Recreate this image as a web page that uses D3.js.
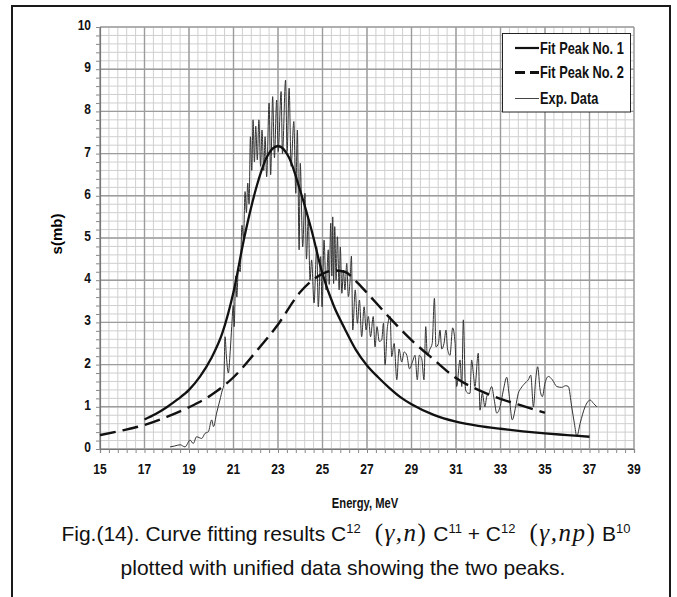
<!DOCTYPE html>
<html>
<head>
<meta charset="utf-8">
<script src="https://cdn.jsdelivr.net/npm/d3@7"></script>
<style>
  body { margin: 0; background: #fff; }
</style>
</head>
<body>
<svg id="chart" width="677" height="597"></svg>
<script>
// ---- data (energy in MeV, cross section in mb) ----
const xMajorTicks = [15, 17, 19, 21, 23, 25, 27, 29, 31, 33, 35, 37, 39];
const yMajorTicks = [0, 1, 2, 3, 4, 5, 6, 7, 8, 9, 10];

const peak1 = [
  [17, 0.70], [17.5, 0.83], [18, 0.99], [18.5, 1.18], [19, 1.40], [19.5, 1.72],
  [20, 2.15], [20.5, 2.75], [21, 3.72], [21.5, 5.05], [22, 6.15], [22.5, 6.92],
  [23, 7.18], [23.5, 6.9], [24, 6.12], [24.5, 5.2], [25, 4.15], [25.5, 3.4],
  [26, 2.85], [26.5, 2.35], [27, 1.98], [27.5, 1.7], [28, 1.45], [28.5, 1.23],
  [29, 1.06], [30, 0.81], [31, 0.65], [32, 0.55], [33, 0.48], [34, 0.42],
  [35, 0.37], [36, 0.33], [37, 0.29]
];

const peak2 = [
  [15, 0.33], [16, 0.44], [17, 0.57], [18, 0.76], [19, 0.99], [20, 1.28],
  [21, 1.7], [22, 2.3], [23, 2.95], [24, 3.72], [25, 4.15], [25.5, 4.23],
  [26, 4.2], [26.5, 3.98], [27, 3.7], [28, 3.12], [29, 2.58], [30, 2.12],
  [31, 1.68], [32, 1.4], [33, 1.19], [34, 1.02], [35, 0.86]
];

const expData = [
  [18.15, 0.05], [18.35, 0.07], [18.6, 0.1], [18.82, 0.05], [19.05, 0.21], [19.19, 0.13],
  [19.34, 0.29], [19.57, 0.25], [19.72, 0.37], [19.87, 0.41], [20.02, 0.69], [20.1, 0.53],
  [20.24, 0.85], [20.39, 1.16], [20.5, 1.4], [20.56, 1.5], [20.62, 2.66], [20.68, 2.2],
  [20.77, 1.8], [20.85, 2.3], [20.92, 2.9], [20.99, 3.4], [21.03, 2.9], [21.1, 4.1],
  [21.15, 3.6], [21.22, 4.3], [21.3, 4.2], [21.38, 5.3], [21.45, 5.0], [21.52, 6.1],
  [21.58, 5.6], [21.64, 6.3], [21.7, 5.8], [21.76, 7.4], [21.82, 6.6], [21.88, 7.8],
  [21.94, 6.8], [22.0, 7.65], [22.07, 6.85], [22.14, 7.8], [22.22, 6.7], [22.28, 7.56],
  [22.36, 6.6], [22.42, 7.4], [22.49, 6.45], [22.6, 8.2], [22.67, 6.5], [22.76, 8.35],
  [22.84, 6.9], [22.94, 8.27], [23.01, 7.05], [23.14, 8.47], [23.2, 7.0], [23.34, 8.74],
  [23.41, 7.05], [23.5, 8.55], [23.59, 6.7], [23.71, 7.76], [23.8, 6.06], [23.87, 7.56],
  [23.95, 4.72], [24.0, 6.77], [24.11, 4.79], [24.21, 6.06], [24.28, 4.5], [24.36, 5.5],
  [24.44, 4.0], [24.51, 4.48], [24.62, 3.46], [24.74, 4.79], [24.81, 3.37], [24.92, 4.56],
  [24.98, 3.37], [25.07, 4.95], [25.16, 3.77], [25.26, 4.72], [25.3, 3.9], [25.37, 5.35],
  [25.42, 4.1], [25.46, 5.5], [25.5, 3.92], [25.55, 5.27], [25.61, 4.0], [25.67, 5.03],
  [25.75, 3.77], [25.8, 4.79], [25.87, 3.69], [25.94, 4.24], [26.01, 3.77], [26.09, 4.4],
  [26.16, 3.61], [26.24, 4.0], [26.3, 4.57], [26.36, 2.82], [26.47, 3.77], [26.57, 2.98],
  [26.66, 3.53], [26.76, 2.66], [26.87, 3.37], [26.96, 2.82], [27.06, 3.14], [27.16, 2.66],
  [27.28, 3.14], [27.36, 2.42], [27.45, 2.9], [27.55, 2.55], [27.66, 2.58], [27.74, 2.98],
  [27.81, 1.99], [27.92, 2.9], [28.04, 3.14], [28.11, 2.19], [28.22, 2.5], [28.34, 1.64],
  [28.44, 2.37], [28.56, 2.06], [28.67, 2.3], [28.79, 2.22], [28.91, 1.9], [29.04, 2.06],
  [29.16, 2.22], [29.26, 1.64], [29.35, 2.22], [29.46, 2.14], [29.56, 1.64], [29.64, 2.9],
  [29.71, 2.22], [29.83, 2.37], [29.93, 2.5], [30.03, 3.57], [30.1, 2.42], [30.21, 2.5],
  [30.28, 2.82], [30.36, 2.37], [30.46, 2.5], [30.55, 2.82], [30.62, 2.37], [30.73, 2.22],
  [30.85, 2.87], [30.96, 2.5], [31.03, 1.48], [31.18, 2.11], [31.26, 1.48], [31.33, 3.06],
  [31.43, 1.4], [31.55, 1.32], [31.63, 1.32], [31.7, 2.11], [31.78, 1.79], [31.85, 1.48],
  [32.0, 2.27], [32.08, 0.92], [32.18, 1.32], [32.3, 1.0], [32.38, 1.24], [32.48, 1.32],
  [32.6, 1.48], [32.72, 1.16], [32.83, 0.85], [32.98, 1.0], [33.13, 1.4], [33.28, 1.7],
  [33.38, 1.32], [33.53, 0.69], [33.68, 1.0], [33.8, 1.32], [33.92, 1.44], [34.1, 1.56],
  [34.25, 1.64], [34.36, 1.75], [34.48, 1.0], [34.58, 1.64], [34.67, 1.95], [34.78, 1.4],
  [34.88, 1.24], [35.0, 1.56], [35.15, 1.72], [35.33, 1.64], [35.53, 1.48], [35.75, 1.46],
  [35.93, 1.5], [36.05, 1.48], [36.2, 1.0], [36.32, 0.61], [36.43, 0.3], [36.58, 0.61],
  [36.8, 1.0], [37.03, 1.16], [37.18, 1.08], [37.33, 1.0]
];

const legendItems = [
  { label: "Fit Peak No. 1", width: 2.2, dash: null, color: "#111" },
  { label: "Fit Peak No. 2", width: 3, dash: "10,5", color: "#111" },
  { label: "Exp. Data", width: 1, dash: null, color: "#444" }
];

// ---- layout ----
const svg = d3.select("#chart");
const plot = { left: 100, right: 634, top: 27, bottom: 449 };

const x = d3.scaleLinear().domain([15, 39]).range([plot.left, plot.right]);
const y = d3.scaleLinear().domain([0, 10]).range([plot.bottom, plot.top]);

const xMinor = d3.range(0, 61).map(i => 15 + i * 0.4);
const yMinor = d3.range(0, 51).map(i => i * 0.2);

// narrow bold labels: no condensed face installed, so squeeze horizontally
const labelFont = "'Liberation Sans', Arial, sans-serif";
function narrowText(g, px, py, txt, size, anchor) {
  return g.append("text")
    .attr("transform", `translate(${px},${py}) scale(0.8,1)`)
    .attr("text-anchor", anchor || "start")
    .attr("font-family", labelFont).attr("font-weight", "bold").attr("font-size", size)
    .attr("fill", "#111")
    .text(txt);
}

// outer frame
svg.append("rect")
  .attr("x", 12).attr("y", 6).attr("width", 658).attr("height", 610)
  .attr("fill", "none").attr("stroke", "#1a1a1a").attr("stroke-width", 2);

// grid (minor then major)
const grid = svg.append("g");
grid.selectAll(".vminor").data(xMinor).join("line")
  .attr("x1", d => x(d)).attr("x2", d => x(d))
  .attr("y1", plot.top).attr("y2", plot.bottom)
  .attr("stroke", "#cfcfcf").attr("stroke-width", 1);
grid.selectAll(".hminor").data(yMinor).join("line")
  .attr("x1", plot.left).attr("x2", plot.right)
  .attr("y1", d => y(d)).attr("y2", d => y(d))
  .attr("stroke", "#cfcfcf").attr("stroke-width", 1);
grid.selectAll(".vmajor").data(xMajorTicks).join("line")
  .attr("x1", d => x(d)).attr("x2", d => x(d))
  .attr("y1", plot.top).attr("y2", plot.bottom)
  .attr("stroke", "#9c9c9c").attr("stroke-width", 1.4);
grid.selectAll(".hmajor").data(yMajorTicks).join("line")
  .attr("x1", plot.left).attr("x2", plot.right)
  .attr("y1", d => y(d)).attr("y2", d => y(d))
  .attr("stroke", "#9c9c9c").attr("stroke-width", 1.4);

// axes with small outward minor ticks
const xAxis = svg.append("g").attr("transform", `translate(0,${plot.bottom})`)
  .call(d3.axisBottom(x).tickValues(xMinor).tickSize(4).tickFormat(""));
const yAxis = svg.append("g").attr("transform", `translate(${plot.left},0)`)
  .call(d3.axisLeft(y).tickValues(yMinor).tickSize(4).tickFormat(""));
[xAxis, yAxis].forEach(g => {
  g.selectAll("path").attr("stroke", "#777").attr("stroke-width", 1.2);
  g.selectAll("line").attr("stroke", "#888");
});

const tickLabels = svg.append("g");
xMajorTicks.forEach(v => narrowText(tickLabels, x(v), 474, v, 15, "middle"));
yMajorTicks.forEach(v => narrowText(tickLabels, 91, y(v) + 3, v, 15, "end"));

// axis titles
narrowText(svg, 365, 508, "Energy, MeV", 14, "middle");
svg.append("text")
  .attr("transform", "translate(62,234) rotate(-90)")
  .attr("text-anchor", "middle")
  .attr("font-family", labelFont).attr("font-weight", "bold").attr("font-size", 15)
  .text("s(mb)");

// curves
const line = d3.line().x(d => x(d[0])).y(d => y(d[1]));
svg.append("path").datum(expData)
  .attr("d", line.curve(d3.curveMonotoneX))
  .attr("fill", "none").attr("stroke", "#333").attr("stroke-width", 1);
svg.append("path").datum(peak2)
  .attr("d", line.curve(d3.curveMonotoneX))
  .attr("fill", "none").attr("stroke", "#111").attr("stroke-width", 2.4)
  .attr("stroke-dasharray", "16,7");
svg.append("path").datum(peak1)
  .attr("d", line.curve(d3.curveMonotoneX))
  .attr("fill", "none").attr("stroke", "#111").attr("stroke-width", 2.3);

// legend
const legend = svg.append("g");
legend.append("rect")
  .attr("x", 502.5).attr("y", 33.5).attr("width", 128).attr("height", 78.5)
  .attr("fill", "#fff").attr("stroke", "#222").attr("stroke-width", 1);
const rowY = [48, 72.5, 98.5];
legendItems.forEach((it, i) => {
  legend.append("line")
    .attr("x1", 515).attr("x2", 539).attr("y1", rowY[i]).attr("y2", rowY[i])
    .attr("stroke", it.color).attr("stroke-width", it.width)
    .attr("stroke-dasharray", it.dash);
  narrowText(legend, 540, rowY[i] + 5.5, it.label, 16);
});

// caption
const capFont = "'Liberation Sans', Arial, sans-serif";
const capTimes = "'Liberation Serif', 'Times New Roman', serif";
const capParts = [
  { t: "Fig.(14). Curve fitting results C" },
  { t: "12", sup: true },
  { t: "\u2002(", serif: true },
  { t: "γ,n", serif: true, italic: true },
  { t: ")", serif: true },
  { t: " C" },
  { t: "11", sup: true },
  { t: " + C" },
  { t: "12", sup: true },
  { t: "\u2002(", serif: true },
  { t: "γ,np", serif: true, italic: true },
  { t: ")", serif: true },
  { t: " B" },
  { t: "10", sup: true }
];
const cap = svg.append("text")
  .attr("x", 346).attr("y", 541)
  .attr("text-anchor", "middle")
  .attr("font-family", capFont).attr("font-size", 21).attr("fill", "#111");
let raised = false;
capParts.forEach(p => {
  const ts = cap.append("tspan").text(p.t);
  if (p.sup && !raised) { ts.attr("dy", -8).attr("font-size", 13); raised = true; }
  else if (p.sup) { ts.attr("font-size", 13); }
  else if (raised) { ts.attr("dy", 8); raised = false; }
  if (p.serif) ts.attr("font-family", capTimes).attr("font-size", 25).attr("letter-spacing", 1.5);
  if (p.italic) ts.attr("font-style", "italic");
});
svg.append("text")
  .attr("x", 343).attr("y", 575)
  .attr("text-anchor", "middle")
  .attr("font-family", capFont).attr("font-size", 21).attr("fill", "#111")
  .text("plotted with unified data showing the two peaks.");
</script>
</body>
</html>
